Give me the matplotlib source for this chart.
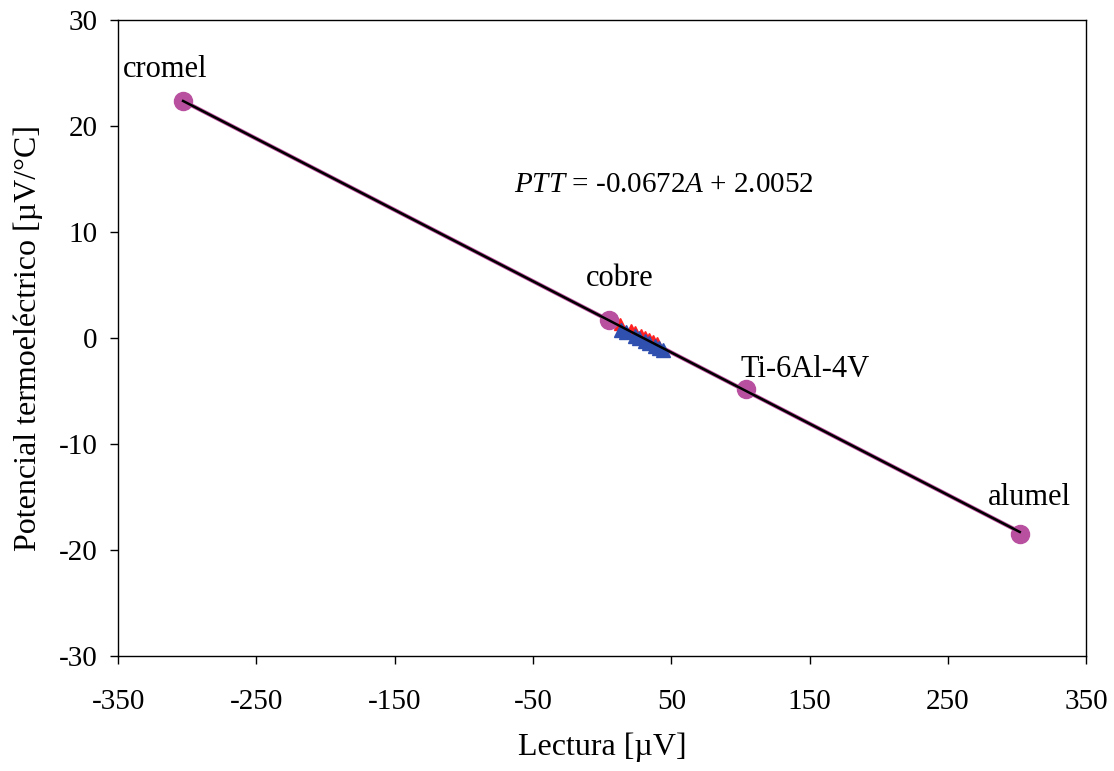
import numpy as np
import matplotlib
matplotlib.use("Agg")
import matplotlib.pyplot as plt

plt.rcParams['font.family'] = ['Liberation Serif', 'DejaVu Serif']
plt.rcParams['axes.unicode_minus'] = False
plt.rcParams['mathtext.fontset'] = 'custom'
plt.rcParams['mathtext.rm'] = 'Liberation Serif'
plt.rcParams['mathtext.it'] = 'Liberation Serif:italic'

# materiales de referencia
ref_names = ["cromel", "cobre", "Ti-6Al-4V", "alumel"]
ref_lectura = [-303, 5, 104, 302]
ref_ptt = [22.4, 1.7, -4.8, -18.5]

# lecturas de las muestras
red_lectura = [10, 13, 21, 24, 28, 31, 34, 37, 40]
red_ptt = [1.6, 1.3, 0.8, 0.6, 0.3, 0.1, -0.1, -0.3, -0.5]
blue_lectura = [14, 17, 24, 27, 31, 34, 38, 41, 44]
blue_ptt = [0.8, 0.6, 0.2, 0.0, -0.3, -0.5, -0.7, -0.9, -1.1]

slope = -0.0672
intercept = 2.0052

fig = plt.figure(figsize=(11.14, 7.71), dpi=100)
ax = fig.add_axes([0.106, 0.149, 0.869, 0.825])

fit_x = np.array([-303, 302])
ax.plot(fit_x, slope * fit_x + intercept, color='#c050a0', lw=3, zorder=1)
ax.plot(red_lectura, red_ptt, linestyle='none', marker='^', color='#ff2020', ms=9, zorder=2)
ax.plot(blue_lectura, blue_ptt, linestyle='none', marker='^', color='#3050b0', ms=10, zorder=3)
ax.plot(ref_lectura, ref_ptt, linestyle='none', marker='o', color='#b8509f', ms=13, zorder=4)
ax.plot(fit_x, slope * fit_x + intercept, color='black', lw=1.8, zorder=5)

label_pos = [(-316, 25.3), (13, 5.6), (147, -3.0), (309, -15.0)]
for name, (lx, ly) in zip(ref_names, label_pos):
    ax.text(lx, ly, name, fontsize=22, ha='center', va='center')

ax.text(45, 14.4, r"$\it{PTT}$ = -0.0672$\it{A}$ + 2.0052", fontsize=21, ha='center', va='center')

ax.set_xlim(-350, 350)
ax.set_ylim(-30, 30)
ax.set_xticks(np.arange(-350, 351, 100))
ax.set_yticks(np.arange(-30, 31, 10))
ax.tick_params(direction='out', labelsize=21, length=6, width=1)
ax.tick_params(axis='x', pad=18)
ax.tick_params(axis='y', pad=9)
for s in ax.spines.values():
    s.set_linewidth(1)

ax.set_xlabel("Lectura [µV]", fontsize=23, labelpad=12)
ax.set_ylabel("Potencial termoeléctrico [µV/°C]", fontsize=23, labelpad=11)

fig.savefig("out.png", dpi=100)
